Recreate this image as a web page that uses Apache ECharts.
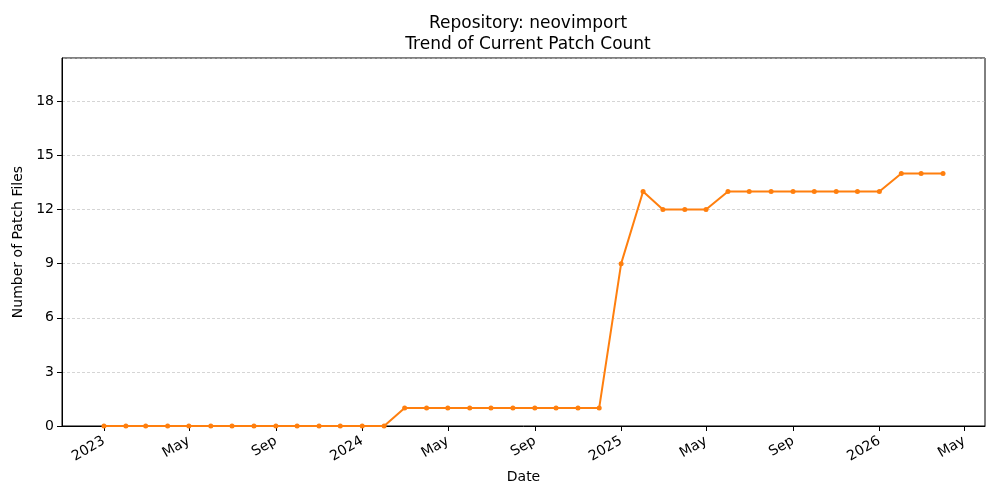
<!DOCTYPE html>
<html style="height: 100%">
<head>
  <meta charset="utf-8">
</head>
<body style="height: 100%; margin: 0; background: #fff">
  <div id="container" style="width: 1000px; height: 500px"></div>

  <script type="text/javascript" src="https://cdn.jsdelivr.net/npm/echarts@6.0.0/dist/echarts.min.js"></script>
  <script type="text/javascript">
    // monthly snapshots, 2023-01 .. 2026-04
    var months = [
      '2023-01-01', '2023-02-01', '2023-03-01', '2023-04-01', '2023-05-01', '2023-06-01',
      '2023-07-01', '2023-08-01', '2023-09-01', '2023-10-01', '2023-11-01', '2023-12-01',
      '2024-01-01', '2024-02-01', '2024-03-01', '2024-04-01', '2024-05-01', '2024-06-01',
      '2024-07-01', '2024-08-01', '2024-09-01', '2024-10-01', '2024-11-01', '2024-12-01',
      '2025-01-01', '2025-02-01', '2025-03-01', '2025-04-01', '2025-05-01', '2025-06-01',
      '2025-07-01', '2025-08-01', '2025-09-01', '2025-10-01', '2025-11-01', '2025-12-01',
      '2026-01-01', '2026-02-01', '2026-03-01', '2026-04-01'
    ];
    var patchCount = [
      0, 0, 0, 0, 0, 0, 0, 0, 0, 0, 0, 0,
      0, 0, 1, 1, 1, 1, 1, 1, 1, 1, 1, 1,
      9, 13, 12, 12, 12, 13, 13, 13, 13, 13, 13, 13,
      13, 14, 14, 14
    ];
    var xTicks = [
      '2023-01-01', '2023-05-01', '2023-09-01', '2024-01-01', '2024-05-01', '2024-09-01',
      '2025-01-01', '2025-05-01', '2025-09-01', '2026-01-01', '2026-05-01'
    ];
    var monthNames = ['Jan', 'Feb', 'Mar', 'Apr', 'May', 'Jun', 'Jul', 'Aug', 'Sep', 'Oct', 'Nov', 'Dec'];

    var font = 'DejaVu Sans';
    var dom = document.getElementById('container');
    var myChart = echarts.init(dom, null, { renderer: 'canvas' });

    function toMs(d) { return Date.parse(d + 'T00:00:00Z'); }
    var tickTimes = xTicks.map(toMs);
    var t0 = toMs(months[0]);
    var t1 = toMs(months[months.length - 1]);
    var pad = (t1 - t0) * 0.05;

    var option = {
      animation: false,
      backgroundColor: '#fff',
      textStyle: { fontFamily: font },
      title: {
        text: 'Repository: neovimport\nTrend of Current Patch Count',
        left: 523,
        textAlign: 'center',
        top: 8,
        textStyle: { fontFamily: font, fontSize: 17, fontWeight: 'normal', color: '#000', lineHeight: 21 }
      },
      grid: {
        left: 62, right: 15, top: 58, bottom: 74,
        show: true, borderColor: '#000', borderWidth: 1
      },
      xAxis: {
        type: 'value',
        min: t0 - pad,
        max: t1 + pad,
        name: 'Date',
        nameLocation: 'middle',
        nameGap: 44,
        nameTextStyle: { fontFamily: font, fontSize: 14, color: '#000' },
        axisLine: { show: true, onZero: false, lineStyle: { color: '#000', width: 1 } },
        axisTick: {
          show: true, length: 5, inside: false,
          customValues: tickTimes,
          lineStyle: { color: '#000' }
        },
        axisLabel: {
          customValues: tickTimes,
          rotate: 30,
          margin: 14,
          fontFamily: font, fontSize: 14, color: '#000',
          formatter: function (val) {
            var d = new Date(val);
            var m = d.getUTCMonth();
            return m === 0 ? String(d.getUTCFullYear()) : monthNames[m];
          }
        },
        splitLine: { show: false }
      },
      yAxis: {
        type: 'value',
        min: 0,
        max: 20.4,
        interval: 3,
        name: 'Number of Patch Files',
        nameLocation: 'middle',
        nameGap: 37,
        nameTextStyle: { fontFamily: font, fontSize: 14, color: '#000' },
        axisLine: { show: true, lineStyle: { color: '#000', width: 1 } },
        axisTick: { show: true, length: 5, inside: false, lineStyle: { color: '#000' } },
        axisLabel: {
          fontFamily: font, fontSize: 14, color: '#000', margin: 8,
          showMaxLabel: false,
          formatter: function (v) { return v % 3 === 0 ? String(v) : ''; }
        },
        splitLine: { show: true, lineStyle: { color: '#b8b8b8', width: 0.6, type: [3, 2] } }
      },
      series: [
        {
          type: 'line',
          data: months.map(function (d, i) { return [toMs(d), patchCount[i]]; }),
          symbol: 'circle',
          symbolSize: 5,
          showSymbol: true,
          lineStyle: { color: '#ff7f0e', width: 2 },
          itemStyle: { color: '#ff7f0e' }
        }
      ]
    };

    myChart.setOption(option);
  </script>
</body>
</html>
